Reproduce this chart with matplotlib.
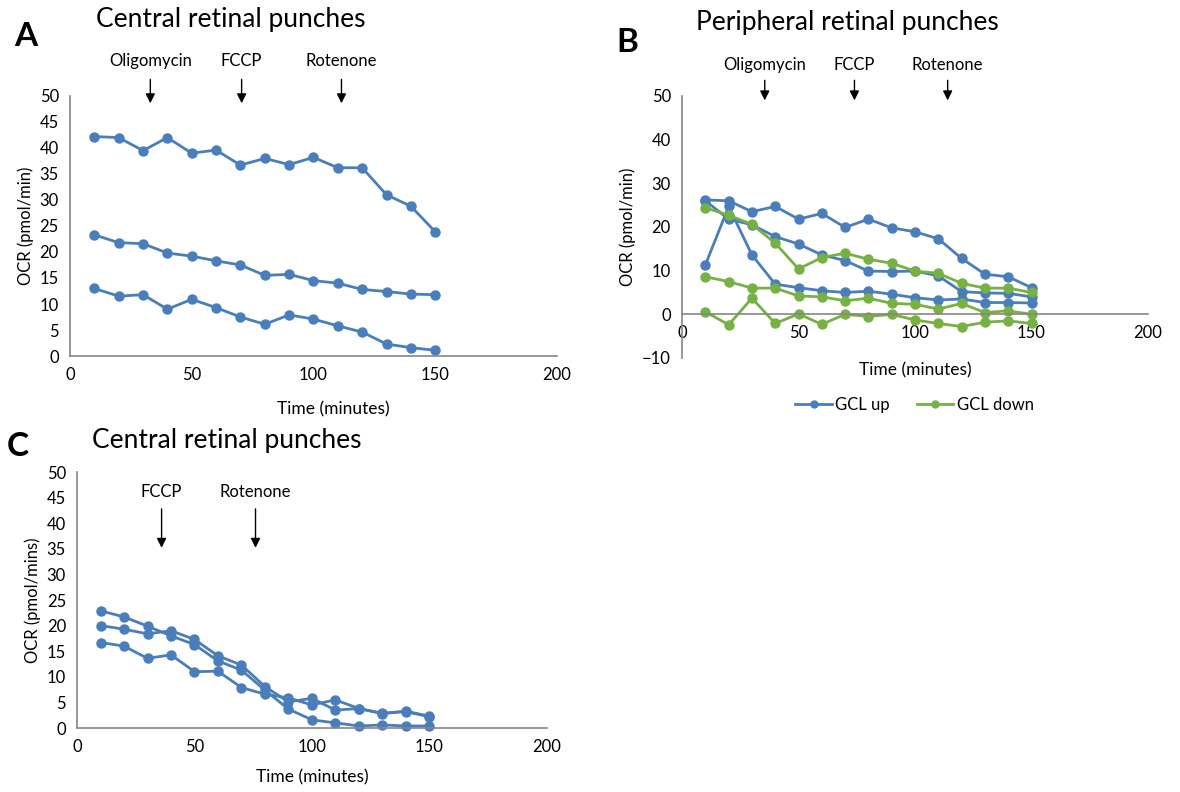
import matplotlib
matplotlib.use('Agg')
import matplotlib.pyplot as plt

plt.rcParams['font.family'] = ['Lato', 'DejaVu Sans']

blue = '#4a7ebb'
green = '#77b143'
spine_col = '#868686'

time = [10, 20, 30, 40, 50, 60, 70, 80, 90, 100, 110, 120, 130, 140, 150]

# panel A - central punches
a_top = [42.2, 42.0, 39.5, 42.0, 39.0, 39.6, 36.7, 38.0, 36.8, 38.2, 36.2, 36.2, 31.0, 28.8, 23.9]
a_mid = [23.3, 21.8, 21.6, 19.8, 19.2, 18.3, 17.5, 15.5, 15.7, 14.5, 14.0, 12.8, 12.4, 11.9, 11.8]
a_low = [13.0, 11.5, 11.8, 9.0, 10.9, 9.3, 7.5, 6.1, 7.9, 7.1, 5.8, 4.6, 2.3, 1.6, 1.1]

# panel B - peripheral punches
b_up1 = [26.2, 26.0, 23.5, 24.7, 21.8, 23.1, 19.9, 21.8, 19.8, 18.9, 17.3, 12.8, 9.2, 8.6, 6.1]
b_up2 = [26.0, 21.8, 20.5, 17.8, 16.1, 13.6, 12.3, 9.9, 9.8, 9.9, 8.8, 5.2, 4.9, 4.8, 4.0]
b_up3 = [11.3, 24.7, 13.6, 6.9, 6.1, 5.4, 5.0, 5.3, 4.6, 3.8, 3.3, 3.5, 2.7, 2.7, 2.6]
b_dn1 = [24.4, 22.7, 20.6, 16.3, 10.4, 13.0, 14.0, 12.6, 11.7, 9.9, 9.4, 7.1, 6.0, 6.0, 5.0]
b_dn2 = [8.6, 7.5, 6.0, 6.0, 4.2, 4.0, 3.1, 3.7, 2.5, 2.3, 1.2, 2.5, 0.4, 0.8, 0.0]
b_dn3 = [0.6, -2.4, 3.7, -2.1, 0.1, -2.3, 0.0, -0.5, 0.0, -1.3, -2.1, -2.8, -1.8, -1.5, -2.1]

# panel C - central punches, no oligomycin
c_1 = [22.9, 21.7, 19.9, 18.0, 16.3, 13.1, 11.3, 7.4, 3.7, 1.6, 1.0, 0.4, 0.6, 0.4, 0.4]
c_2 = [20.0, 19.3, 18.4, 19.0, 17.3, 14.1, 12.3, 8.1, 5.1, 5.8, 3.5, 3.8, 2.9, 3.2, 2.2]
c_3 = [16.7, 16.0, 13.6, 14.3, 11.0, 11.1, 7.9, 6.6, 5.9, 4.5, 5.5, 3.8, 2.8, 3.3, 2.3]

a_inject = [('Oligomycin', 33), ('FCCP', 70.5), ('Rotenone', 111.5)]
b_inject = [('Oligomycin', 35.5), ('FCCP', 74), ('Rotenone', 114)]
c_inject = [('FCCP', 36), ('Rotenone', 76)]

fig = plt.figure(figsize=(11.8, 7.92), dpi=100)

axA = fig.add_axes([0.0593, 0.5505, 0.4127, 0.3283])
axB = fig.add_axes([0.578, 0.548, 0.3949, 0.3308])
axC = fig.add_axes([0.0653, 0.0808, 0.398, 0.3232])


def style(ax, ymin, ystep, ylab):
    ax.set_xlim(0, 200)
    ax.set_ylim(ymin, 50)
    ax.set_xticks(range(0, 201, 50))
    ax.set_yticks(range(ymin, 51, ystep))
    for s in ['top', 'right']:
        ax.spines[s].set_visible(False)
    for s in ['left', 'bottom']:
        ax.spines[s].set_color(spine_col)
        ax.spines[s].set_linewidth(1.2)
    ax.tick_params(length=0, labelsize=12, pad=8, colors='black')
    ax.set_ylabel(ylab, fontsize=12)
    ax.set_xlabel('Time (minutes)', fontsize=12.5)


def lines(ax, series, col):
    for s in series:
        ax.plot(time, s, color=col, lw=2, marker='o', ms=6.5, clip_on=False)


def arrows(ax, inject, y0, y1, ytxt):
    for name, x in inject:
        ax.annotate('', xy=(x, y1), xytext=(x, y0), annotation_clip=False,
                    arrowprops=dict(arrowstyle='-|>', color='black', lw=1,
                                    mutation_scale=14, shrinkA=0, shrinkB=0))
        ax.text(x, ytxt, name, ha='center', va='center', fontsize=12, clip_on=False)


lines(axA, [a_top, a_mid, a_low], blue)
style(axA, 0, 5, 'OCR (pmol/min)')
axA.xaxis.set_label_coords(0.54, -0.175)
arrows(axA, a_inject, 53.2, 48.6, 56.8)

lines(axB, [b_up1, b_up2, b_up3], blue)
lines(axB, [b_dn1, b_dn2, b_dn3], green)
style(axB, -10, 10, 'OCR (pmol/min)')
axB.spines['bottom'].set_position(('data', 0))
axB.xaxis.set_label_coords(0.5, -0.015)
arrows(axB, b_inject, 53.6, 49.0, 57.2)

lines(axC, [c_1, c_2, c_3], blue)
style(axC, 0, 5, 'OCR (pmol/mins)')
axC.xaxis.set_label_coords(0.5, -0.16)
arrows(axC, c_inject, 42.8, 35.2, 46.1)

fig.text(0.012, 0.972, 'A', fontsize=24, fontweight='bold', va='top')
fig.text(0.081, 0.975, 'Central retinal punches', fontsize=19, va='center')
fig.text(0.522, 0.965, 'B', fontsize=24, fontweight='bold', va='top')
fig.text(0.590, 0.972, 'Peripheral retinal punches', fontsize=19, va='center')
fig.text(0.006, 0.455, 'C', fontsize=24, fontweight='bold', va='top')
fig.text(0.078, 0.444, 'Central retinal punches', fontsize=19, va='center')

h_up, = axB.plot([], [], color=blue, lw=2, marker='o', ms=5)
h_dn, = axB.plot([], [], color=green, lw=2, marker='o', ms=5)
fig.legend([h_up, h_dn], ['GCL up', 'GCL down'], loc='center', ncol=2,
           bbox_to_anchor=(0.775, 0.489), frameon=False, fontsize=12,
           handlelength=2.2, handletextpad=0.2, columnspacing=1.6)

fig.savefig('out.png', dpi=100)
